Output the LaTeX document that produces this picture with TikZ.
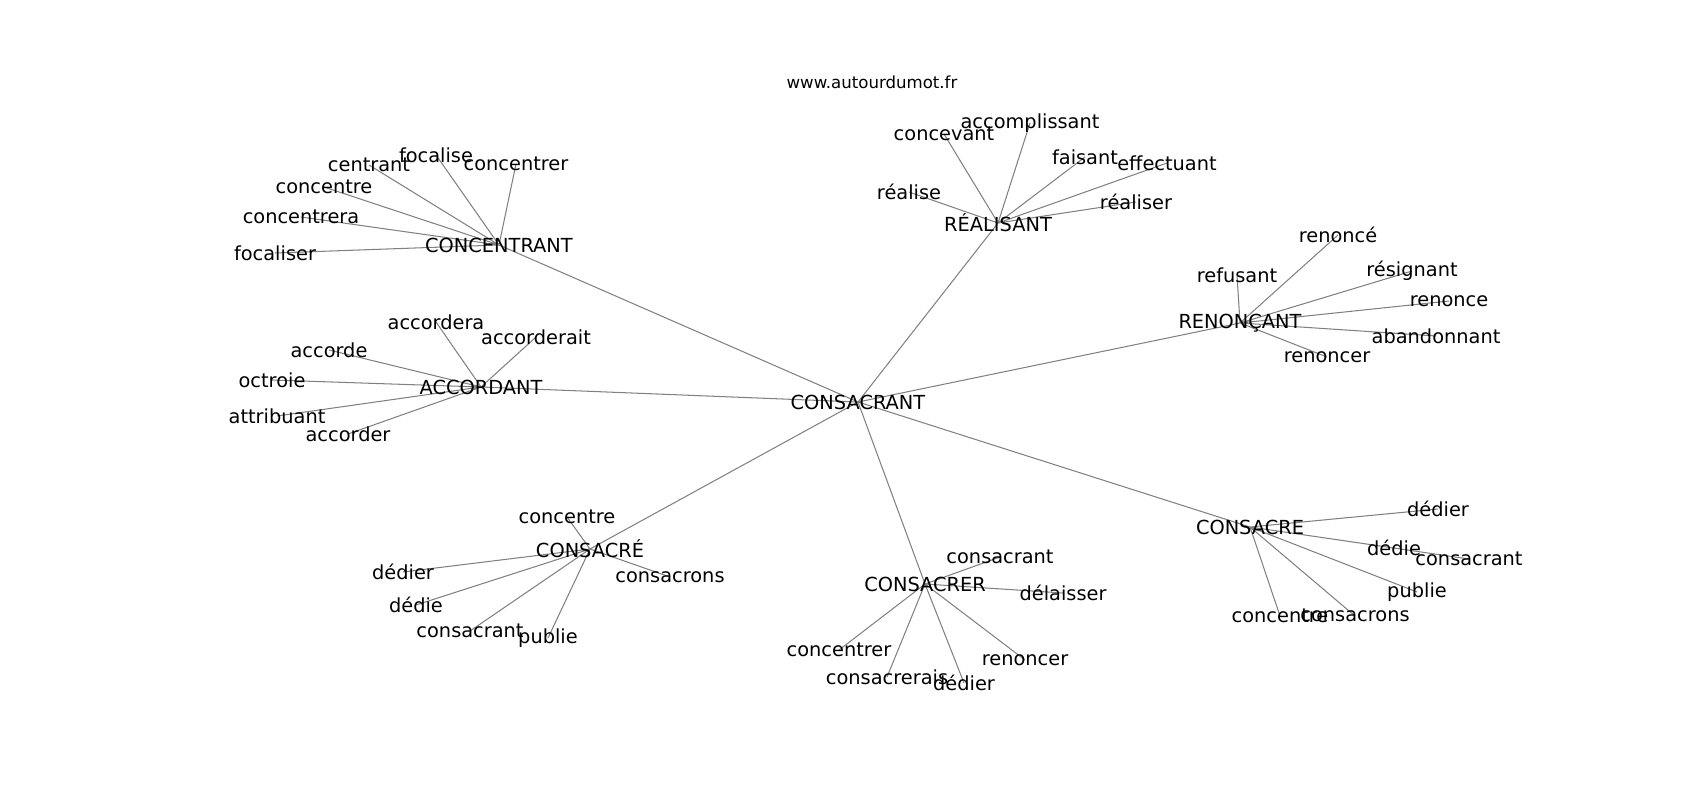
\documentclass[tikz,border=0pt]{standalone}
\usepackage{fontspec}
\setmainfont{DejaVu Sans}
\usetikzlibrary{backgrounds}

\begin{document}
\begin{tikzpicture}[x=0.0254cm, y=-0.0254cm,
    word/.style={inner sep=0pt, font=\fontsize{14}{16}\selectfont},
    link/.style={draw=gray, line width=0.75pt}]
    \useasboundingbox (0,0) rectangle (1700,800);

    % Title
    \node[inner sep=0pt, font=\fontsize{12}{14}\selectfont] (title) at (872,82) {www.autourdumot.fr};

    % Center and hubs
    \node[word] (consacrant) at (858,402) {CONSACRANT};
    \node[word] (concentrant) at (499,245) {CONCENTRANT};
    \node[word] (realisant) at (998,223) {RÉALISANT};
    \node[word] (renoncant) at (1240,323) {RENONÇANT};
    \node[word] (accordant) at (481,387) {ACCORDANT};
    \node[word] (consacreE) at (590,549) {CONSACRÉ};
    \node[word] (consacrer) at (925,584) {CONSACRER};
    \node[word] (consacre) at (1250,527) {CONSACRE};

    % CONCENTRANT
    \node[word] (focaliserA) at (275,253) {focaliser};
    \node[word] (concentreraA) at (301,217) {concentrera};
    \node[word] (concentreA) at (324,187) {concentre};
    \node[word] (centrantA) at (369,165) {centrant};
    \node[word] (focaliseA) at (436,155) {focalise};
    \node[word] (concentrerA) at (516,164) {concentrer};

    % ACCORDANT
    \node[word] (accorderaB) at (436,322) {accordera};
    \node[word] (accorderaitB) at (536,337) {accorderait};
    \node[word] (accordeB) at (329,350) {accorde};
    \node[word] (octroieB) at (272,380) {octroie};
    \node[word] (attribuantB) at (277,416) {attribuant};
    \node[word] (accorderB) at (348,434) {accorder};

    % REALISANT
    \node[word] (concevantC) at (944,134) {concevant};
    \node[word] (accomplissantC) at (1030,123) {accomplissant};
    \node[word] (faisantC) at (1085,157) {faisant};
    \node[word] (effectuantC) at (1167,163) {effectuant};
    \node[word] (realiseC) at (909,192) {réalise};
    \node[word] (realiserC) at (1136,202) {réaliser};

    % RENONCANT
    \node[word] (refusantD) at (1237,275) {refusant};
    \node[word] (renonceED) at (1338,235) {renoncé};
    \node[word] (resignantD) at (1412,271) {résignant};
    \node[word] (renonceD) at (1449,301) {renonce};
    \node[word] (abandonnantD) at (1436,336) {abandonnant};
    \node[word] (renoncerD) at (1327,357) {renoncer};

    % CONSACRE (accent)
    \node[word] (concentreE) at (567,517) {concentre};
    \node[word] (dedierE) at (403,572) {dédier};
    \node[word] (dedieE) at (416,605) {dédie};
    \node[word] (consacrantE) at (470,631) {consacrant};
    \node[word] (publieE) at (548,638) {publie};
    \node[word] (consacronsE) at (670,577) {consacrons};

    % CONSACRER
    \node[word] (consacrantF) at (1000,557) {consacrant};
    \node[word] (delaisserF) at (1063,593) {délaisser};
    \node[word] (concentrerF) at (839,650) {concentrer};
    \node[word] (consacreraisF) at (887,677) {consacrerais};
    \node[word] (dedierF) at (964,683) {dédier};
    \node[word] (renoncerF) at (1025,660) {renoncer};

    % CONSACRE
    \node[word] (dedierG) at (1438,509) {dédier};
    \node[word] (dedieG) at (1394,548) {dédie};
    \node[word] (consacrantG) at (1469,559) {consacrant};
    \node[word] (publieG) at (1417,592) {publie};
    \node[word] (concentreG) at (1280,616) {concentre};
    \node[word] (consacronsG) at (1355,616) {consacrons};

    % Edges
    \begin{scope}[on background layer]
    \draw[link] (consacrant.center) -- (concentrant.center)
        (consacrant.center) -- (realisant.center)
        (consacrant.center) -- (renoncant.center)
        (consacrant.center) -- (accordant.center)
        (consacrant.center) -- (consacreE.center)
        (consacrant.center) -- (consacrer.center)
        (consacrant.center) -- (consacre.center);
    \draw[link] (concentrant.center) -- (focaliserA.center)
        (concentrant.center) -- (concentreraA.center)
        (concentrant.center) -- (concentreA.center)
        (concentrant.center) -- (centrantA.center)
        (concentrant.center) -- (focaliseA.center)
        (concentrant.center) -- (concentrerA.center);
    \draw[link] (accordant.center) -- (accorderaB.center)
        (accordant.center) -- (accorderaitB.center)
        (accordant.center) -- (accordeB.center)
        (accordant.center) -- (octroieB.center)
        (accordant.center) -- (attribuantB.center)
        (accordant.center) -- (accorderB.center);
    \draw[link] (realisant.center) -- (concevantC.center)
        (realisant.center) -- (accomplissantC.center)
        (realisant.center) -- (faisantC.center)
        (realisant.center) -- (effectuantC.center)
        (realisant.center) -- (realiseC.center)
        (realisant.center) -- (realiserC.center);
    \draw[link] (renoncant.center) -- (refusantD.center)
        (renoncant.center) -- (renonceED.center)
        (renoncant.center) -- (resignantD.center)
        (renoncant.center) -- (renonceD.center)
        (renoncant.center) -- (abandonnantD.center)
        (renoncant.center) -- (renoncerD.center);
    \draw[link] (consacreE.center) -- (concentreE.center)
        (consacreE.center) -- (dedierE.center)
        (consacreE.center) -- (dedieE.center)
        (consacreE.center) -- (consacrantE.center)
        (consacreE.center) -- (publieE.center)
        (consacreE.center) -- (consacronsE.center);
    \draw[link] (consacrer.center) -- (consacrantF.center)
        (consacrer.center) -- (delaisserF.center)
        (consacrer.center) -- (concentrerF.center)
        (consacrer.center) -- (consacreraisF.center)
        (consacrer.center) -- (dedierF.center)
        (consacrer.center) -- (renoncerF.center);
    \draw[link] (consacre.center) -- (dedierG.center)
        (consacre.center) -- (dedieG.center)
        (consacre.center) -- (consacrantG.center)
        (consacre.center) -- (publieG.center)
        (consacre.center) -- (concentreG.center)
        (consacre.center) -- (consacronsG.center);
    \end{scope}
\end{tikzpicture}
\end{document}
